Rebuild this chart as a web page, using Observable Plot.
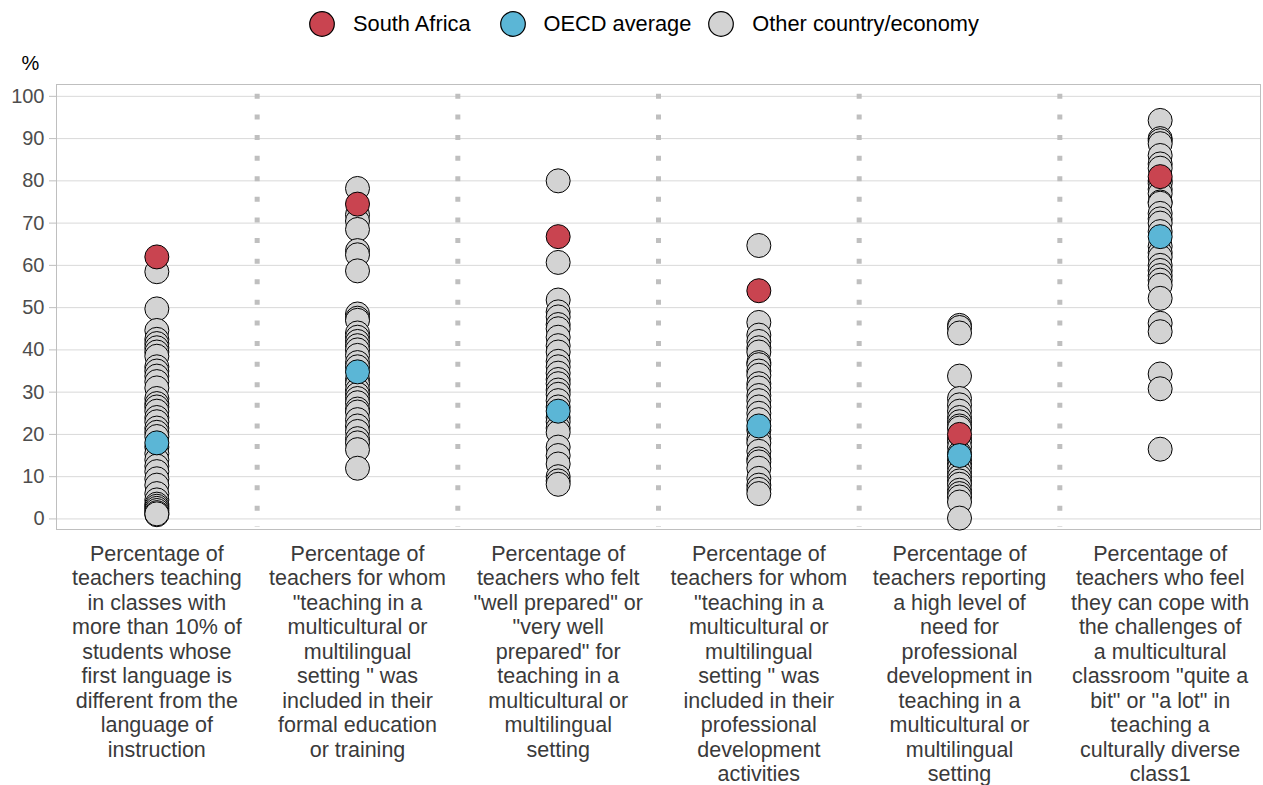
<!DOCTYPE html>
<html>
<head>
<meta charset="utf-8">
<script src="https://cdn.jsdelivr.net/npm/d3@7"></script>
<script src="https://cdn.jsdelivr.net/npm/@observablehq/plot@0.6"></script>
<style>
  body { margin: 0; background: #fff; font-family: "Liberation Sans", Arial, sans-serif; }
  #legend { height: 48px; display: flex; align-items: center; padding-left: 309px; box-sizing: border-box; font-size: 21.8px; color: #000; }
  #legend .item { display: flex; align-items: center; margin-right: 29px; }
  #legend .item:nth-child(2) { margin-right: 17px; }
  #legend svg { margin-right: 18px; }
</style>
</head>
<body>
<div id="legend"></div>
<div id="chart"></div>
<script>
const categoryLabels = [
  "Percentage of\nteachers teaching\nin classes with\nmore than 10% of\nstudents whose\nfirst language is\ndifferent from the\nlanguage of\ninstruction",
  "Percentage of\nteachers for whom\n\"teaching in a\nmulticultural or\nmultilingual\nsetting \" was\nincluded in their\nformal education\nor training",
  "Percentage of\nteachers who felt\n\"well prepared\" or\n\"very well\nprepared\" for\nteaching in a\nmulticultural or\nmultilingual\nsetting",
  "Percentage of\nteachers for whom\n\"teaching in a\nmulticultural or\nmultilingual\nsetting \" was\nincluded in their\nprofessional\ndevelopment\nactivities",
  "Percentage of\nteachers reporting\na high level of\nneed for\nprofessional\ndevelopment in\nteaching in a\nmulticultural or\nmultilingual\nsetting",
  "Percentage of\nteachers who feel\nthey can cope with\nthe challenges of\na multicultural\nclassroom \"quite a\nbit\" or \"a lot\" in\nteaching a\nculturally diverse\nclass1"
];

const groups = ["South Africa", "OECD average", "Other country/economy"];
const groupColors = ["#c94450", "#5bb6d6", "#d3d3d3"];

const southAfrica = [62, 74.5, 66.8, 54, 20, 81];
const oecdAverage = [18, 34.8, 25.5, 22, 15, 66.8];

const other1 = [58.5, 49.7, 44.6, 42.5, 41.5, 40.5, 39.5, 38.5, 36, 35, 33.8, 32.5, 31, 28.5, 27.3, 26.5, 25.5, 24, 23, 21.5, 20.5, 19.5, 17, 15.5, 14, 12.5, 11.2, 9.5, 8, 6, 4.5, 3.5, 3, 2.5, 2, 1.5, 1, 1.2];
const other2 = [78.2, 72, 70.5, 68.5, 63.5, 62.5, 58.7, 48.5, 47.5, 47, 44, 43, 42, 41, 40, 38.7, 37, 36, 33, 32, 30.5, 29.5, 28.5, 27.5, 26, 25.3, 23.5, 22, 20.7, 19, 18, 16.4, 12];
const other3 = [80, 60.7, 51.8, 49, 47.8, 46, 45, 43, 41, 39.5, 37.3, 36, 34.5, 33, 32, 30.5, 29.5, 28, 26.5, 24, 23, 21.5, 20.5, 17, 15, 13, 10, 9, 8.2];
const other4 = [64.7, 46.5, 43.5, 42, 40.5, 39.5, 37, 36.5, 35, 34, 32, 31, 29.2, 28, 26.5, 25, 23.5, 21, 19, 18, 16, 14.2, 13.5, 12, 9.6, 8, 7, 6];
const other5 = [45.8, 45.3, 44, 33.8, 28.5, 27, 25.5, 24, 23, 22, 21.5, 19, 18.3, 17, 15.5, 14, 13, 12.2, 11, 10, 9, 8.2, 6.8, 6, 5.2, 4, 0.2];
const other6 = [94.3, 90, 89.5, 88.8, 86, 84, 83, 80, 79.4, 78, 77, 75, 74.7, 72.3, 71, 70, 68, 64.5, 63, 62, 60, 58.8, 57.6, 56.5, 55.3, 52.2, 46.3, 44.3, 34.3, 30.8, 16.5];

const yTicks = [0, 10, 20, 30, 40, 50, 60, 70, 80, 90, 100];

// Build records: others first, then highlighted series on top
const others = [other1, other2, other3, other4, other5, other6];
const records = [];
others.forEach((arr, i) => arr.forEach(v => records.push({cat: i + 0.5, value: v, group: groups[2]})));
southAfrica.forEach((v, i) => records.push({cat: i + 0.5, value: v, group: groups[0]}));
oecdAverage.forEach((v, i) => records.push({cat: i + 0.5, value: v, group: groups[1]}));

const catCenters = categoryLabels.map((_, i) => i + 0.5);
const separators = categoryLabels.slice(1).map((_, i) => i + 1);

// Legend
const legend = document.getElementById("legend");
groups.forEach((g, i) => {
  const item = document.createElement("div");
  item.className = "item";
  item.innerHTML = `<svg width="26" height="26"><circle cx="13" cy="13" r="12.3" fill="${groupColors[i]}" stroke="#000" stroke-width="1.2"/></svg><span>${g}</span>`;
  legend.appendChild(item);
});

const chart = Plot.plot({
  width: 1263,
  height: 737,
  marginLeft: 56,
  marginRight: 3,
  marginTop: 36,
  marginBottom: 256,
  style: {fontFamily: "'Liberation Sans', Arial, sans-serif", background: "#fff"},
  x: {domain: [0, categoryLabels.length]},
  y: {domain: [-2.5, 102.8]},
  color: {domain: groups, range: groupColors},
  marks: [
    Plot.gridY(yTicks, {stroke: "#d9d9d9", strokeOpacity: 1}),
    Plot.ruleX(separators, {x: d => d, y1: 100, y2: -2.5, dy: -2, stroke: "#bfbfbf", strokeWidth: 5, strokeDasharray: "5 15.6"}),
    Plot.frame({stroke: "#bfbfbf"}),
    Plot.axisY(yTicks, {tickSize: 7, tickPadding: 5, fontSize: 20, color: "#4d4d4d", stroke: "#bfbfbf", label: null}),
    Plot.axisX(catCenters, {tickSize: 0, tickPadding: 14, fontSize: 21.5, lineHeight: 1.14, color: "#3a3a3a", tickFormat: d => categoryLabels[Math.floor(d)], label: null, textOverflow: null}),
    Plot.text(["%"], {frameAnchor: "top-left", text: d => d, dx: -26, dy: -21, textAnchor: "middle", lineAnchor: "middle", fontSize: 20, fill: "#000"}),
    Plot.dot(records, {x: "cat", y: "value", r: 12, fill: "group", stroke: "#000", strokeWidth: 1})
  ]
});
document.getElementById("chart").appendChild(chart);
</script>
</body>
</html>
